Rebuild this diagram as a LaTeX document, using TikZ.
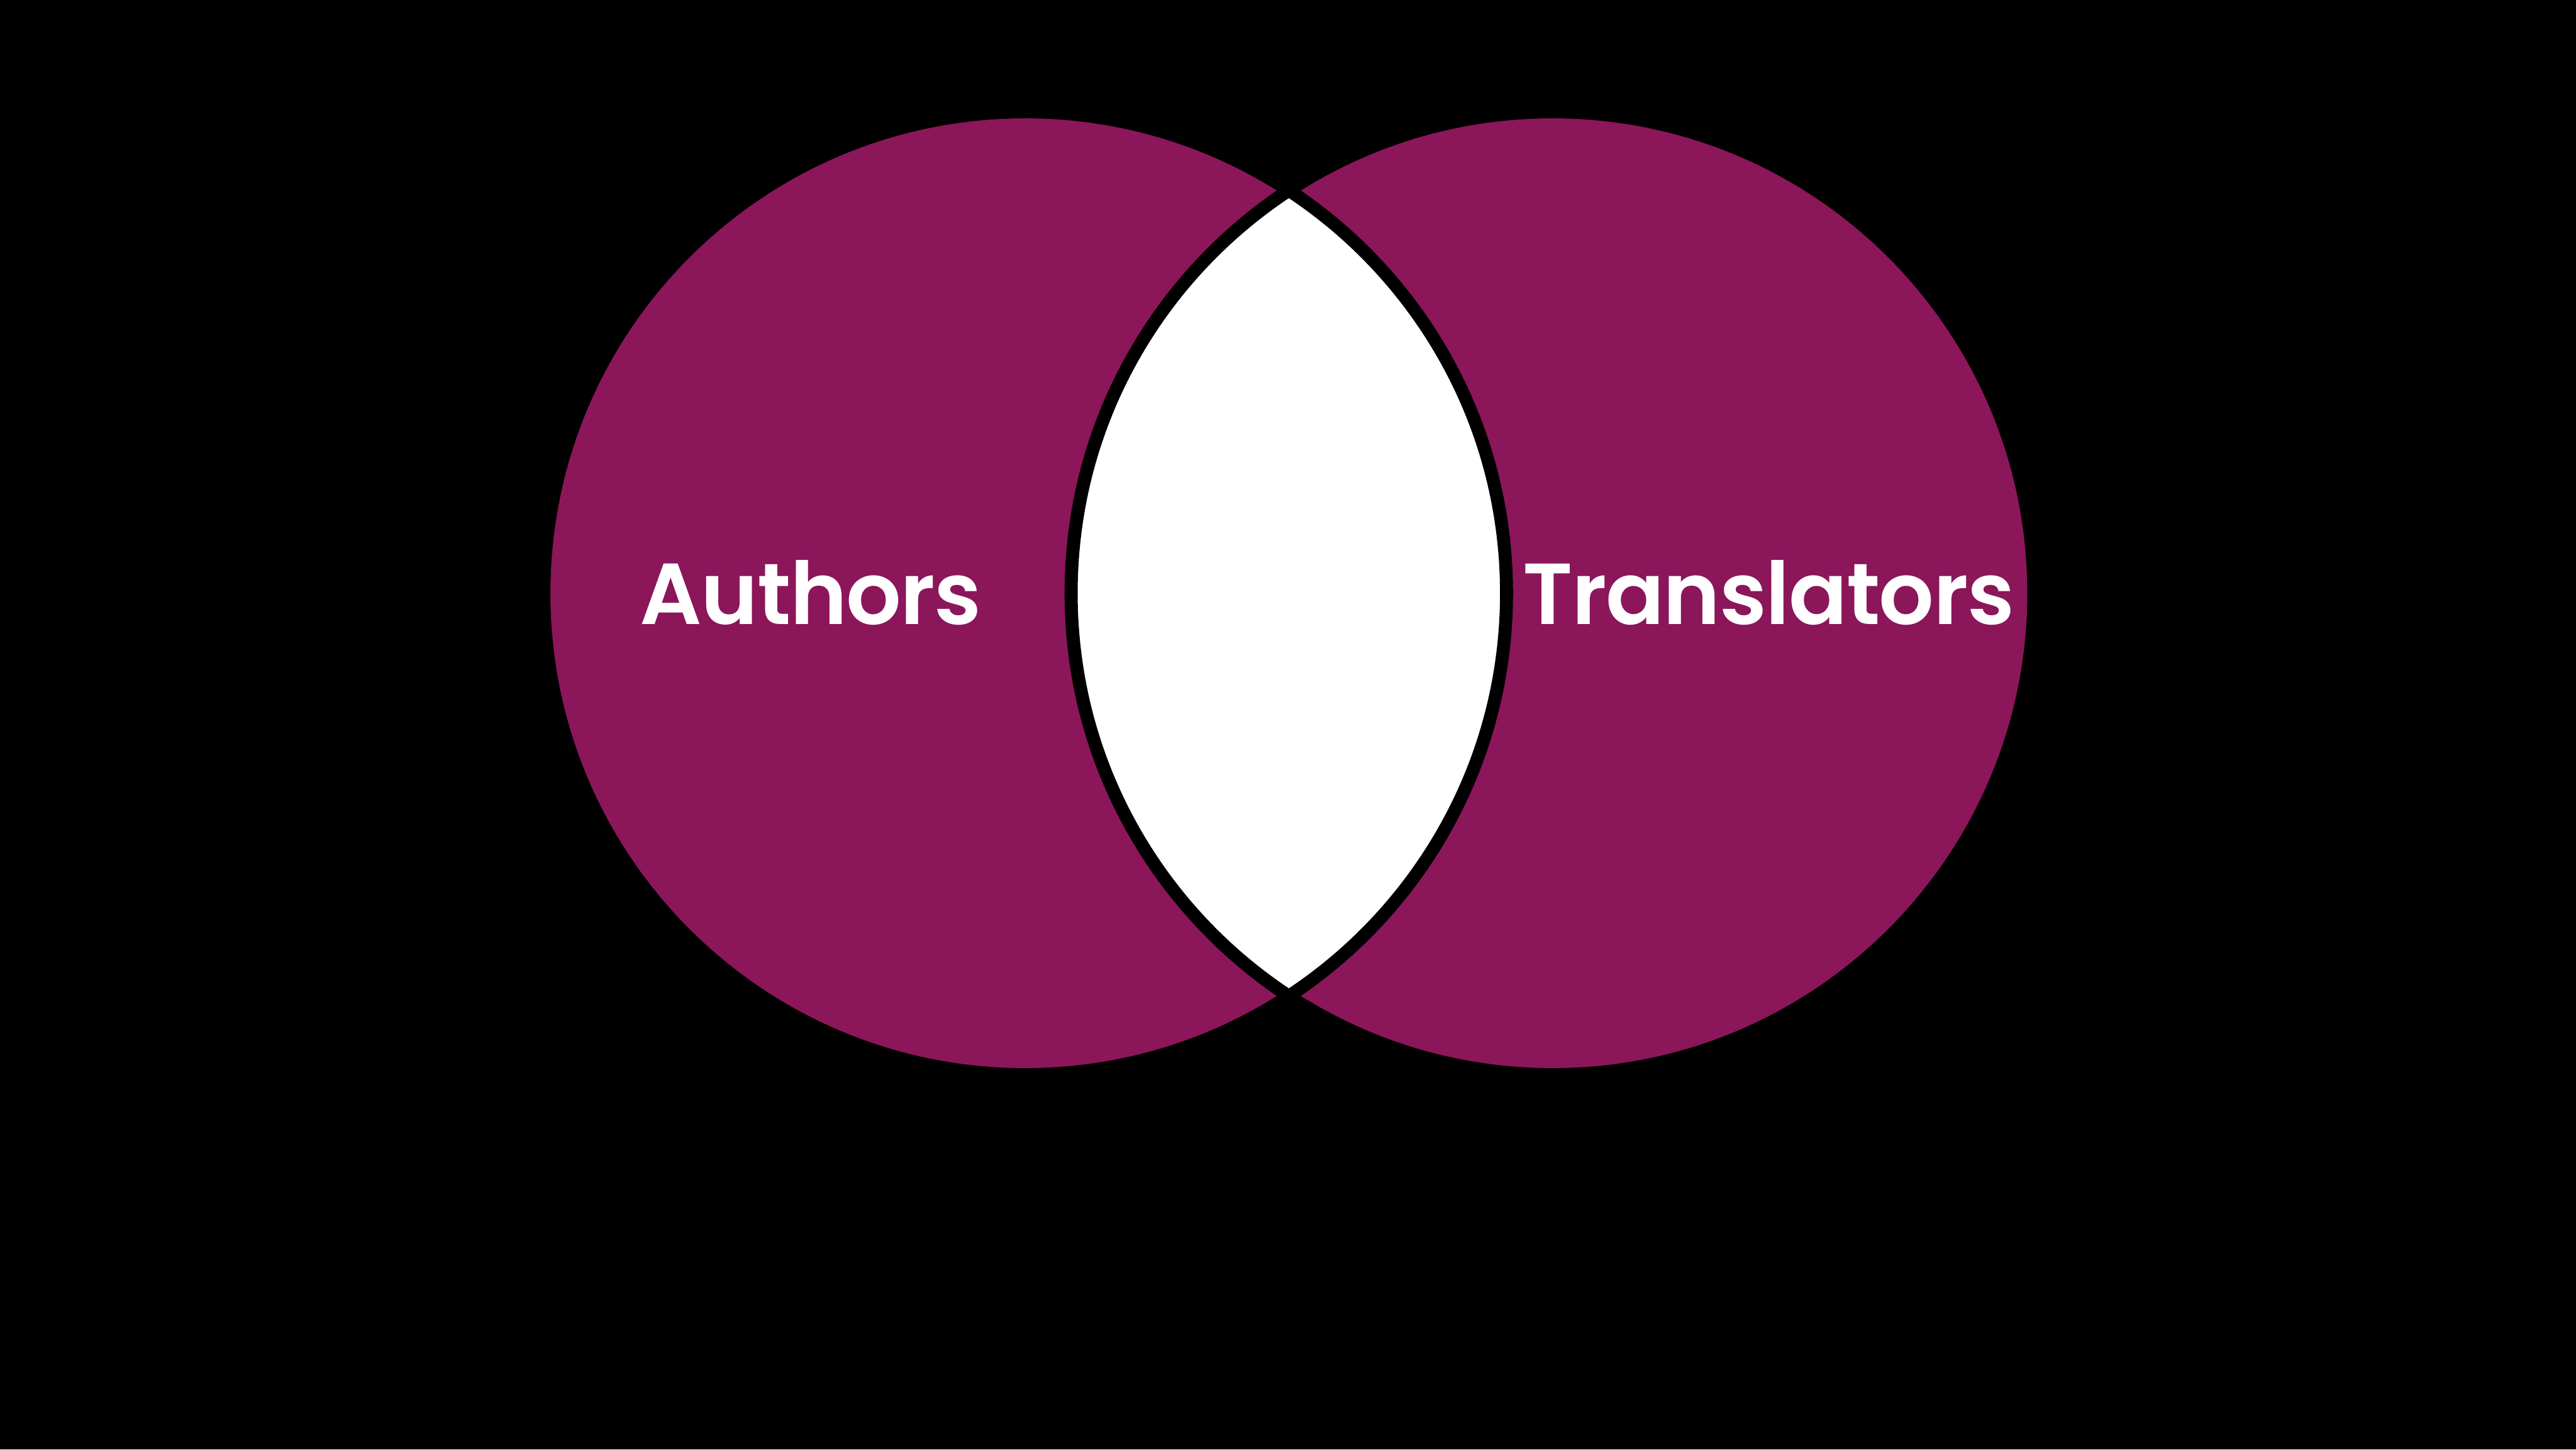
\documentclass[tikz,border=0pt]{standalone}
\usepackage{fontspec}
\setmainfont{Poppins SemiBold}[LetterSpace=-1.2]
\usepackage{tikz}
\usetikzlibrary{positioning}
\definecolor{setfill}{HTML}{8B165A}

\begin{document}
\begin{tikzpicture}[
  setCircle/.style={circle, draw=black, line width=0.79mm, fill=setfill, minimum size=58.6mm, inner sep=0pt},
  setLabel/.style={text=white, anchor=base, inner sep=0pt, font=\fontsize{15}{18}\selectfont}
]
  \fill[black] (0,0) rectangle (15.68,8.82);
  \useasboundingbox (0,0) rectangle (15.68,8.82);

  \node[setCircle] (authors) at (6.24,5.21) {};
  \node[setCircle] (translators) at (9.45,5.21) {};

  % overlap
  \begin{scope}
    \clip (authors.center) circle (2.93);
    \fill[white] (translators.center) circle (2.93);
  \end{scope}
  \draw[line width=0.79mm] (authors.center) circle (2.93);
  \draw[line width=0.79mm] (translators.center) circle (2.93);

  \node[setLabel] (authorsText) at (4.935,5.02) {Authors};
  \node[setLabel] (translatorsText) at (10.765,5.02) {Translators};
\end{tikzpicture}
\end{document}
